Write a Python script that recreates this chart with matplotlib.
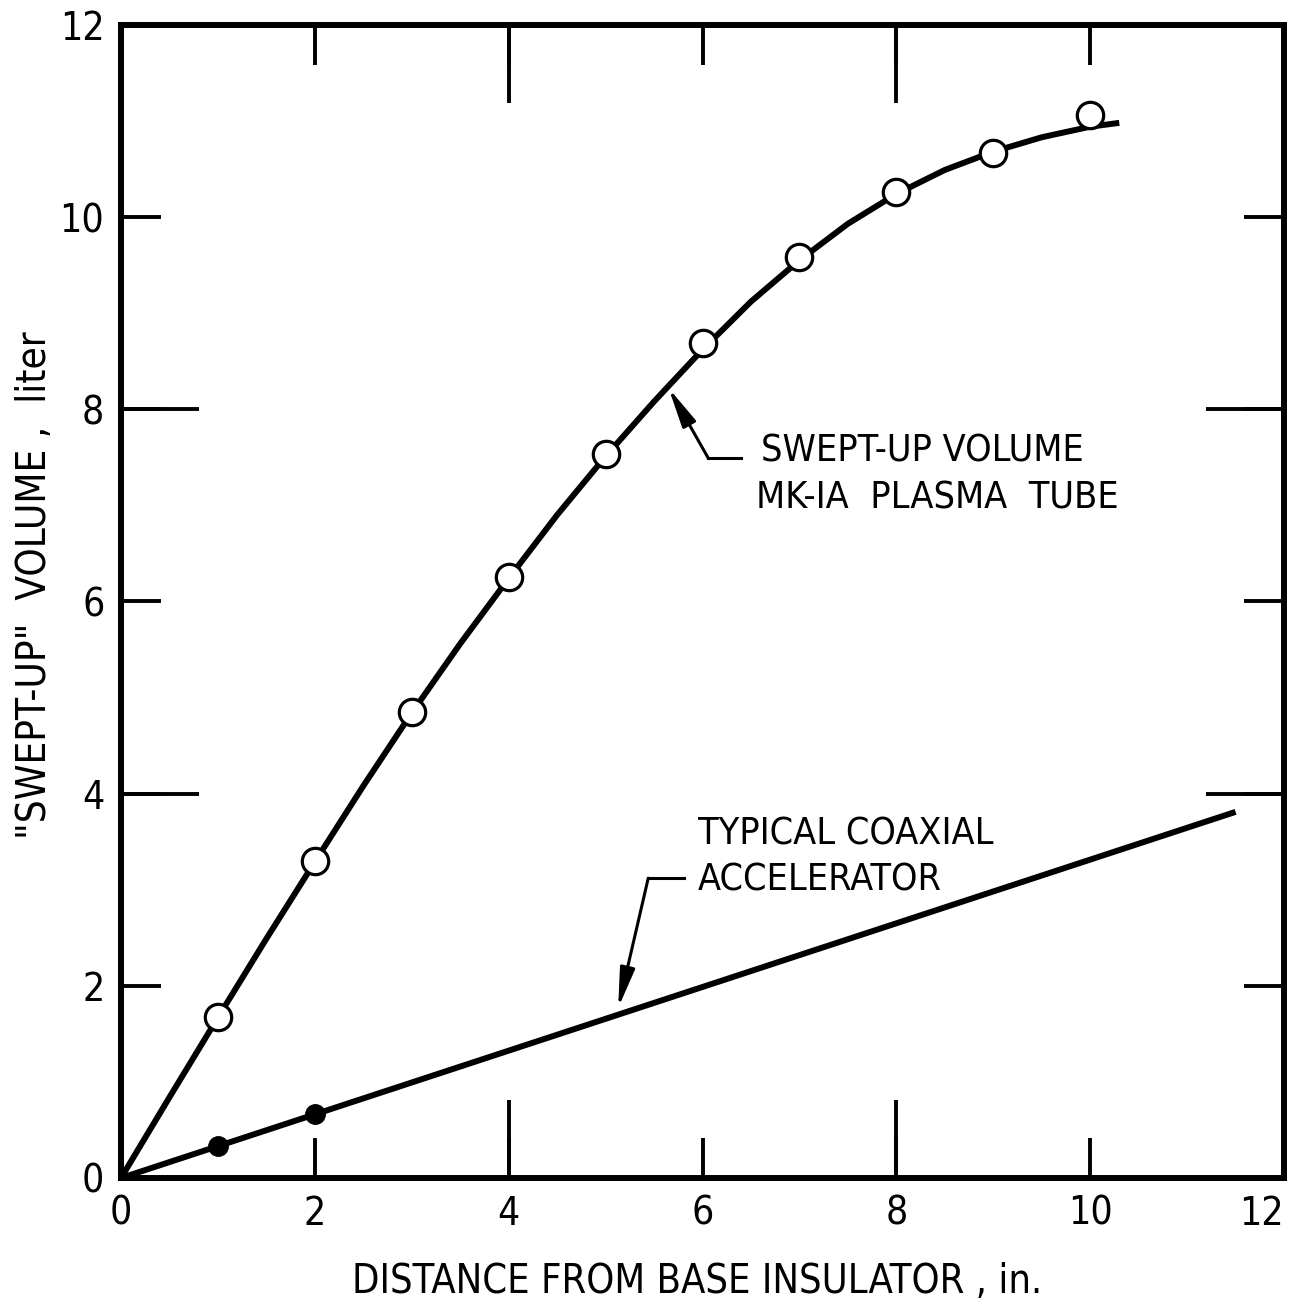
import matplotlib.pyplot as plt

plt.rcParams['font.family'] = ['DejaVu Sans']
plt.rcParams['font.stretch'] = 'condensed'

# measured points, swept-up volume of the MK-IA plasma tube
dist = [1, 2, 3, 4, 5, 6, 7, 8, 9, 10]
volume = [1.68, 3.30, 4.85, 6.25, 7.53, 8.69, 9.58, 10.26, 10.67, 11.06]

# hand-drawn fair curve through those points
curve_x = [0, 0.5, 1, 1.5, 2, 2.5, 3, 3.5, 4, 4.5, 5, 5.5, 6, 6.5, 7, 7.5,
           8, 8.5, 9, 9.5, 10, 10.3]
curve_y = [0, 0.84, 1.67, 2.49, 3.29, 4.08, 4.84, 5.56, 6.24, 6.90, 7.51,
           8.08, 8.62, 9.12, 9.55, 9.93, 10.24, 10.49, 10.68, 10.83, 10.94, 10.98]

# typical coaxial accelerator
coax_x = [0, 11.5]
coax_y = [0, 3.81]
coax_pts_x = [1, 2]
coax_pts_y = [0.33, 0.67]

ticks = [0, 2, 4, 6, 8, 10, 12]
long_ticks = [4, 8]

fig = plt.figure(figsize=(12.97, 13.07), dpi=100)
ax = fig.add_axes([0.0933, 0.0987, 0.8967, 0.8823])

ax.plot(curve_x, curve_y, color='black', lw=4.3, solid_capstyle='butt',
        solid_joinstyle='round', zorder=2)
ax.plot(dist, volume, 'o', ms=19, mfc='white', mec='black', mew=2.3, zorder=3)
ax.plot(coax_x, coax_y, color='black', lw=4.3, solid_capstyle='butt', zorder=2)
ax.plot(coax_pts_x, coax_pts_y, 'o', ms=14, color='black', zorder=3)

arrow = dict(arrowstyle='-|>,head_length=2.4,head_width=0.45',
             color='black', lw=2.2, shrinkA=0, shrinkB=0)

# leader for upper curve
ax.plot([6.40, 6.06], [7.49, 7.49], color='black', lw=2.2)
ax.annotate('', xy=(5.65, 8.22), xytext=(6.06, 7.49), arrowprops=arrow)
ax.text(6.60, 7.56, 'SWEPT-UP VOLUME', fontsize=27, ha='left', va='center')
ax.text(6.55, 7.07, 'MK-IA  PLASMA  TUBE', fontsize=27, ha='left', va='center')

# leader for lower line
ax.plot([5.81, 5.44], [3.12, 3.12], color='black', lw=2.2)
ax.annotate('', xy=(5.13, 1.77), xytext=(5.44, 3.12), arrowprops=arrow)
ax.text(5.95, 3.57, 'TYPICAL COAXIAL', fontsize=27, ha='left', va='center')
ax.text(5.95, 3.10, 'ACCELERATOR', fontsize=27, ha='left', va='center')

ax.set_xlim(0, 12)
ax.set_ylim(0, 12)
ax.set_xticks(ticks)
ax.set_yticks(ticks)
ax.set_xticks(long_ticks, minor=True)
ax.set_yticks(long_ticks, minor=True)
ax.xaxis.remove_overlapping_locs = False
ax.yaxis.remove_overlapping_locs = False
ax.tick_params(which='major', direction='in', length=29, width=2.8,
               top=True, right=True, labelsize=28, pad=12)
ax.tick_params(which='minor', direction='in', length=56, width=2.8,
               top=True, right=True)
ax.get_xticklabels()[-1].set_horizontalalignment('right')
for s in ax.spines.values():
    s.set_linewidth(4.3)

ax.set_xlabel('DISTANCE FROM BASE INSULATOR , in.', fontsize=28.5, va='top')
ax.xaxis.set_label_coords(0.495, -0.073)
ax.set_ylabel('"SWEPT-UP"  VOLUME ,  liter', fontsize=29)
ax.yaxis.set_label_coords(-0.057, 0.514)

fig.savefig('out.png', dpi=100)
